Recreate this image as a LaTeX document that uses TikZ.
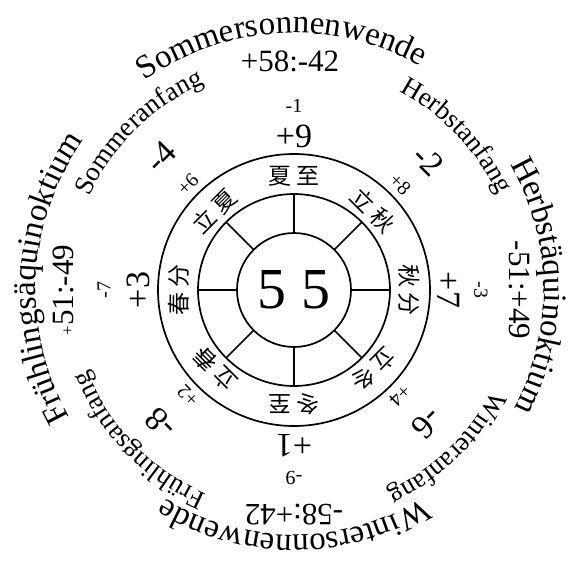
\documentclass[tikz,border=0pt]{standalone}
\usepackage{fontspec}
\setmainfont{Liberation Serif}
\newfontfamily\cjkfont{Noto Sans CJK SC}
\usetikzlibrary{decorations.text}
\newcommand\dNameFont{\fontsize{33}{33}\selectfont}
\newcommand\dSubFont{\fontsize{27}{27}\selectfont}
\begin{document}
\begin{tikzpicture}[
  ring/.style={line width=1.7pt},
  bignum/.style={font=\fontsize{34}{34}\selectfont, inner sep=0pt},
  smallnum/.style={font=\fontsize{20}{20}\selectfont, inner sep=0pt},
  pairnum/.style={font=\fontsize{31}{31}\selectfont, inner sep=0pt},
  hanzi/.style={font=\cjkfont\fontsize{23}{23}\selectfont, inner sep=0pt},
  arctext/.style={decorate, decoration={text along path, text align=center, text={#1}}},
]
\useasboundingbox (-294pt,-273pt) rectangle (279pt,290pt);
% rings
\draw[ring] (0,0) circle[radius=136pt];
\draw[ring] (0,0) circle[radius=96pt];
\draw[ring] (0,0) circle[radius=57pt];
\foreach \a in {0,45,...,315} \draw[ring] (\a:57pt) -- (\a:96pt);
\node[font=\fontsize{58}{58}\selectfont, inner sep=0pt] (c) at (0,0) {5 5};
% chinese terms
\node[hanzi, rotate=0]    (h90)  at (90:114pt)  {夏\hspace{5pt}至};
\node[hanzi, rotate=-45]  (h45)  at (45:112pt)  {立\hspace{5pt}秋};
\node[hanzi, rotate=-90]  (h0)   at (0:115pt)   {秋\hspace{5pt}分};
\node[hanzi, rotate=-135] (hm45) at (-45:112pt) {立\hspace{5pt}冬};
\node[hanzi, rotate=180]  (hm90) at (-90:114pt) {冬\hspace{5pt}至};
\node[hanzi, rotate=135]  (hm135) at (-135:112pt) {立\hspace{5pt}春};
\node[hanzi, rotate=90]   (h180) at (180:115pt) {春\hspace{5pt}分};
\node[hanzi, rotate=45]   (h135) at (135:112pt) {立\hspace{5pt}夏};
% axis numbers
\node[bignum, rotate=0]    (n90)  at (90:154pt)  {+9};
\node[smallnum, rotate=0]  (s90)  at (90:184pt)  {-1};
\node[bignum, rotate=-90]  (n0)   at (0:155pt)   {+7};
\node[smallnum, rotate=-90] (s0)  at (0:187pt)   {-3};
\node[bignum, rotate=180]  (nm90) at (-90:156pt) {+1};
\node[smallnum, rotate=180] (sm90) at (-90:188pt) {-9};
\node[bignum, rotate=90]   (n180) at (180:156pt) {+3};
\node[smallnum, rotate=90] (s180) at (180:190pt) {-7};
% diagonal numbers
\node[smallnum, rotate=-45]  (s45)  at (45:150pt)   {+8};
\node[bignum, rotate=-45]    (n45)  at (44:187pt)   {-2};
\node[smallnum, rotate=45]   (s135) at (135:150pt)  {+6};
\node[bignum, rotate=45]     (n135) at (135:188pt)  {-4};
\node[smallnum, rotate=135]  (sm135) at (-135:150pt) {+2};
\node[bignum, rotate=135]    (nm135) at (-135:188pt) {-8};
\node[smallnum, rotate=-135] (sm45) at (-45:150pt)  {+4};
\node[bignum, rotate=-135]   (nm45) at (-45:188pt)  {-6};
% pair numbers
\node[pairnum, rotate=0]   (p90)  at (91:229pt)  {+58:-42};
\node[pairnum, rotate=-90] (p0)   at (0:226pt)   {-51:+49};
\node[pairnum, rotate=180] (pm90) at (-90:225pt) {-58:+42};
\node[pairnum, rotate=90]  (p180) at (180:231pt) {{\fontsize{17}{17}\selectfont+}51:-49};
% outer names
\path[arctext={|\dNameFont|Sommersonnenwende}] (163:257pt) arc[start angle=163, end angle=23, radius=257pt];
\path[arctext={|\dNameFont|Herbstäquinoktium}] (71:250pt) arc[start angle=71, end angle=-69, radius=250pt];
\path[arctext={|\dNameFont|Wintersonnenwende}] (-20:245pt) arc[start angle=-20, end angle=-160, radius=245pt];
\path[arctext={|\dNameFont|Frühlingsäquinoktium}] (250:258pt) arc[start angle=250, end angle=104, radius=258pt];
% seasonal beginnings
\path[arctext={|\dSubFont|Sommeranfang}] (194.5:225pt) arc[start angle=194.5, end angle=74.5, radius=225pt];
\path[arctext={|\dSubFont|Herbstanfang}] (103.5:225pt) arc[start angle=103.5, end angle=-16.5, radius=225pt];
\path[arctext={|\dSubFont|Winteranfang}] (14:222pt) arc[start angle=14, end angle=-106, radius=222pt];
\path[arctext={|\dSubFont|Frühlingsanfang}] (-76:222pt) arc[start angle=-76, end angle=-196, radius=222pt];
\end{tikzpicture}
\end{document}
